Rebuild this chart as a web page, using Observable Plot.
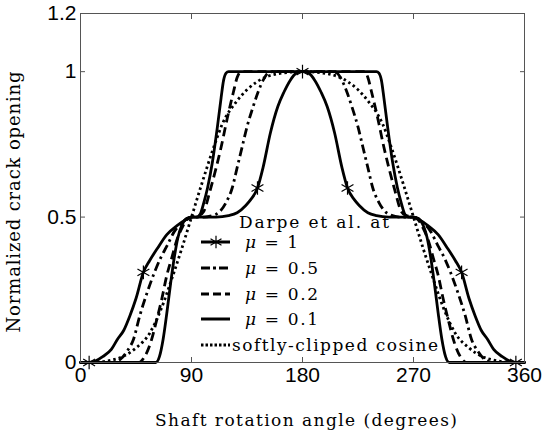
<!DOCTYPE html>
<html><head><meta charset="utf-8">
<script src="https://cdn.jsdelivr.net/npm/d3@7"></script>
<script src="https://cdn.jsdelivr.net/npm/@observablehq/plot@0.6"></script>
<style>body{margin:0;background:#fff}</style>
</head><body><div id="chart"></div>
<script>
const xTicks = [0, 90, 180, 270, 360];
const yTicks = [0, 0.5, 1, 1.2];
const xLabel = "Shaft rotation angle (degrees)";
const yLabel = "Normalized crack opening";
const legendTitle = "Darpe et al. at";
const legendMu = ["1", "0.5", "0.2", "0.1"];
const legendCosine = "softly-clipped cosine";

const mu1 = [[0,0],[6,0],[12,0.005],[18,0.02],[25,0.045],[30,0.08],[35,0.11],[40,0.16],[45,0.22],[51,0.31],[56,0.35],[62,0.39],[70,0.44],[78,0.47],[85,0.49],[90,0.5],[100,0.5],[110,0.5],[120,0.505],[127,0.515],[134,0.54],[138,0.56],[143.5,0.6],[148,0.67],[154,0.79],[160,0.88],[165,0.93],[170,0.97],[175,0.995],[180,1],
  [185,0.995],[190,0.97],[195,0.93],[200,0.88],[206,0.79],[212,0.67],[216.5,0.6],[222,0.56],[226,0.54],[233,0.515],[240,0.505],[250,0.5],[260,0.5],[270,0.5],[275,0.49],[282,0.47],[290,0.44],[298,0.39],[304,0.35],[309,0.31],[315,0.22],[320,0.16],[325,0.11],[330,0.08],[335,0.045],[342,0.02],[348,0.005],[354,0],[360,0]];
const mu1Markers = [[7,0],[51,0.31],[143.5,0.6],[180,1],[216.5,0.6],[309,0.31],[353,0]];

const mu05 = [[0,0],[25,0],[32,0.01],[38,0.04],[43,0.08],[48,0.16],[54,0.24],[60,0.31],[65,0.36],[70,0.40],[76,0.45],[82,0.48],[90,0.5],[100,0.5],[110,0.51],[118,0.55],[123,0.6],[127,0.67],[131,0.74],[135,0.81],[140,0.88],[144,0.93],[148,0.97],[152,0.995],[156,1],[180,1],
  [204,1],[208,0.995],[212,0.97],[216,0.93],[220,0.88],[225,0.81],[229,0.74],[233,0.67],[237,0.6],[242,0.55],[250,0.51],[260,0.5],[270,0.5],[278,0.48],[284,0.45],[290,0.40],[295,0.36],[300,0.31],[306,0.24],[312,0.16],[317,0.08],[322,0.04],[328,0.01],[335,0],[360,0]];

const mu02 = [[0,0],[47,0],[52,0.02],[57,0.07],[62,0.15],[66,0.22],[70,0.3],[74,0.36],[78,0.42],[82,0.46],[86,0.49],[90,0.5],[96,0.505],[100,0.52],[105,0.59],[110,0.67],[114,0.74],[119,0.84],[124,0.93],[127,0.98],[130,1],[180,1],
  [230,1],[233,0.98],[236,0.93],[241,0.84],[246,0.74],[250,0.67],[255,0.59],[260,0.52],[264,0.505],[270,0.5],[274,0.49],[278,0.46],[282,0.42],[286,0.36],[290,0.3],[294,0.22],[298,0.15],[303,0.07],[308,0.02],[313,0],[360,0]];

const mu01 = [[0,0],[61,0],[64,0.02],[67,0.08],[70,0.17],[73,0.27],[76,0.36],[79,0.43],[82,0.47],[86,0.495],[90,0.5],[94,0.5],[97,0.51],[100,0.55],[103,0.6],[107,0.69],[111,0.81],[114,0.91],[116,0.97],[118,0.995],[120,1],[180,1],
  [240,1],[242,0.995],[244,0.97],[246,0.91],[249,0.81],[253,0.69],[257,0.6],[260,0.55],[263,0.51],[266,0.5],[270,0.5],[274,0.495],[278,0.47],[281,0.43],[284,0.36],[287,0.27],[290,0.17],[293,0.08],[296,0.02],[299,0],[360,0]];

const cosine = [[0,0],[15,0.002],[25,0.008],[34,0.02],[45,0.05],[56,0.1],[65,0.18],[75,0.3],[82,0.39],[90,0.5],[98,0.61],[108,0.74],[115,0.82],[127,0.9],[143,0.965],[160,0.993],[180,1],
  [200,0.993],[217,0.965],[233,0.9],[245,0.82],[252,0.74],[262,0.61],[270,0.5],[278,0.39],[285,0.3],[295,0.18],[304,0.1],[315,0.05],[326,0.02],[335,0.008],[345,0.002],[360,0]];

const axisColor = "#555";
const serif = "'DejaVu Serif', serif";
const lineOpts = (extra) => Object.assign({x: d => d[0], y: d => d[1], curve: "monotone-x", stroke: "black", strokeWidth: 2.8}, extra);

const chart = Plot.plot({
  width: 550, height: 436,
  marginLeft: 80, marginRight: 26, marginTop: 13, marginBottom: 74,
  x: {domain: [0, 360]},
  y: {domain: [0, 1.2]},
  style: {fontFamily: "'Liberation Sans', Arial, sans-serif", fontSize: "21px", background: "#fff", color: "#000"},
  marks: [
    Plot.line(cosine, lineOpts({strokeDasharray: "2.5,3", strokeLinecap: "butt"})),
    Plot.line(mu05, lineOpts({strokeDasharray: "9,4,2.5,4", strokeLinecap: "butt"})),
    Plot.line(mu02, lineOpts({strokeDasharray: "9,5", strokeLinecap: "butt"})),
    Plot.line(mu01, lineOpts({})),
    Plot.line(mu1, lineOpts({})),
    Plot.dot(mu1Markers, {x: d => d[0], y: d => d[1], symbol: "asterisk", r: 6.5, stroke: "black", strokeWidth: 1.2}),
    Plot.frame({stroke: axisColor}),
    Plot.axisX(xTicks, {anchor: "bottom", tickSize: 5, dy: -5, text: null, label: null, stroke: axisColor}),
    Plot.axisX(xTicks, {anchor: "top", tickSize: 5, dy: 5, text: null, label: null, stroke: axisColor}),
    Plot.axisY(yTicks, {anchor: "left", tickSize: 5, dx: 5, text: null, label: null, stroke: axisColor}),
    Plot.axisY(yTicks, {anchor: "right", tickSize: 5, dx: -5, text: null, label: null, stroke: axisColor}),
    Plot.axisX(xTicks, {anchor: "bottom", tickSize: 0, tickPadding: 5, label: null, tickFormat: d => String(d)}),
    Plot.axisY(yTicks, {anchor: "left", tickSize: 0, tickPadding: 4, label: null, tickFormat: d => String(d)})
  ]
});
document.getElementById("chart").appendChild(chart);

// Axis titles and legend (serif, LaTeX-like)
const svg = d3.select(chart);
svg.append("text").attr("x", 306).attr("y", 421).attr("text-anchor", "middle").attr("dominant-baseline", "middle")
  .attr("font-family", serif).attr("font-size", 17).attr("textLength", 302).attr("lengthAdjust", "spacing").text(xLabel);
svg.append("text").attr("transform", "translate(15,202) rotate(-90)").attr("text-anchor", "middle").attr("dominant-baseline", "middle")
  .attr("font-family", serif).attr("font-size", 18).attr("textLength", 261).attr("lengthAdjust", "spacing").text(yLabel);

const lg = svg.append("g").attr("font-family", serif).attr("font-size", 17).attr("text-anchor", "start");
lg.append("text").attr("x", 239).attr("y", 223).attr("dominant-baseline", "middle")
  .attr("textLength", 150).attr("lengthAdjust", "spacing").text(legendTitle);
const rows = [242, 268, 294, 319, 345];
const dashes = [null, "9,3,3,3", "8,4", null, "2.5,2"];
rows.forEach((ry, i) => {
  lg.append("line").attr("x1", 201).attr("x2", 230).attr("y1", ry).attr("y2", ry)
    .attr("stroke", "black").attr("stroke-width", 3).attr("stroke-dasharray", dashes[i]);
  if (i < 4) {
    const t = lg.append("text").attr("x", 245).attr("y", ry + 1).attr("dominant-baseline", "middle")
      .attr("textLength", i === 0 ? 53 : 73).attr("lengthAdjust", "spacing");
    t.append("tspan").attr("font-style", "italic").text("μ");
    t.append("tspan").text(" = " + legendMu[i]);
  } else {
    lg.append("text").attr("x", 232).attr("y", ry + 1).attr("dominant-baseline", "middle")
      .attr("textLength", 206).attr("lengthAdjust", "spacing").text(legendCosine);
  }
});
lg.append("path").attr("transform", `translate(216,${rows[0]})`)
  .attr("d", d3.symbol(d3.symbolAsterisk, 113)()).attr("fill", "none").attr("stroke", "black").attr("stroke-width", 1.2);
</script>
</body></html>
